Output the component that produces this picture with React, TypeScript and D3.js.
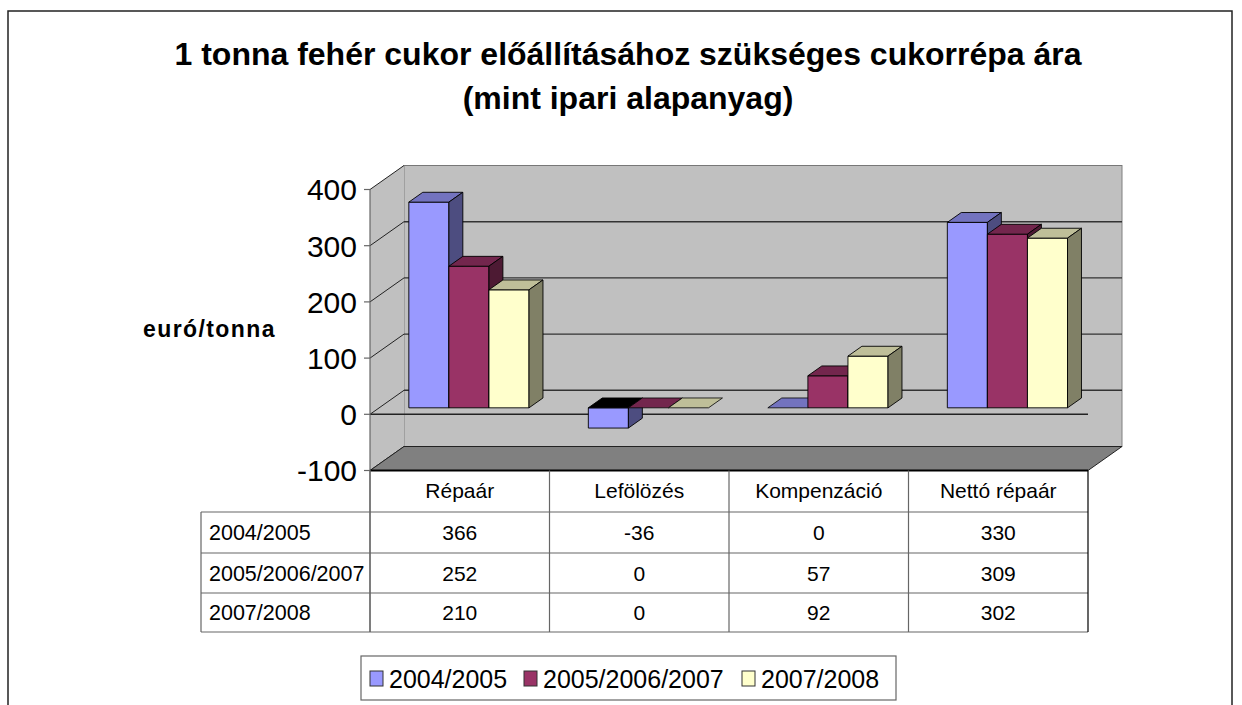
import React from 'react';
import * as d3 from 'd3';

// chart data
const categories = ['Répaár', 'Lefölözés', 'Kompenzáció', 'Nettó répaár'];
const seriesNames = ['2004/2005', '2005/2006/2007', '2007/2008'];
const values2004 = [366, -36, 0, 330];
const values2005 = [252, 0, 57, 309];
const values2007 = [210, 0, 92, 302];
const yTicks = [-100, 0, 100, 200, 300, 400];

const seriesValues = [values2004, values2005, values2007];
const colors = [
  { front: '#9999ff', top: '#7373bf', side: '#4d4d80' },
  { front: '#993366', top: '#73264d', side: '#4d1a33' },
  { front: '#ffffcc', top: '#bfbf99', side: '#808066' },
];

const FONT = '"Liberation Sans", Arial, sans-serif';
const W = 1242, H = 705;
// depth offset of the 3d box
const DX = 34, DY = 24;
const F0 = 0.27, F1 = 0.68;

const App = () => {
  const y = d3.scaleLinear().domain([-100, 400]).range([470.5, 189.5]);
  const x = d3.scaleBand().domain(categories).range([370, 1088]);
  const s = d3.scaleBand().domain(seriesNames).range([0, x.bandwidth()]).paddingInner(0).paddingOuter(0.74);

  const x0 = x.range()[0], x1 = x.range()[1];
  const yTop = y(400), yBot = y(-100), yZero = y(0);

  const pts = (arr) => arr.map(p => p.join(',')).join(' ');

  const bars = [];
  categories.forEach((cat, ci) => {
    seriesNames.forEach((name, si) => {
      const v = seriesValues[si][ci];
      const c = colors[si];
      const bx0 = x(cat) + s(name) + F0 * DX;
      const bx1 = bx0 + s.bandwidth();
      const ddx = (F1 - F0) * DX, ddy = (F1 - F0) * DY;
      const yt = Math.min(y(v), yZero) - F0 * DY;
      const yb = Math.max(y(v), yZero) - F0 * DY;
      const topFill = v < 0 ? '#000' : c.top;
      const key = cat + name;
      if (v === 0) {
        bars.push(
          <polygon key={key} points={pts([[bx0, yt], [bx1, yt], [bx1 + ddx, yt - ddy], [bx0 + ddx, yt - ddy]])}
            fill={topFill} stroke="#000" strokeWidth={0.8} />
        );
        return;
      }
      bars.push(
        <g key={key} stroke="#000" strokeWidth={0.9} strokeLinejoin="round">
          <rect x={bx0} y={yt} width={bx1 - bx0} height={yb - yt} fill={c.front} />
          <polygon points={pts([[bx0, yt], [bx1, yt], [bx1 + ddx, yt - ddy], [bx0 + ddx, yt - ddy]])} fill={topFill} />
          <polygon points={pts([[bx1, yt], [bx1 + ddx, yt - ddy], [bx1 + ddx, yb - ddy], [bx1, yb]])} fill={c.side} />
        </g>
      );
    });
  });

  // table geometry
  const tableLeft = 201;
  const rowLines = [512, 553, 593, 632];
  const colLines = [x0, ...categories.map(c => x(c) + x.bandwidth())];

  const legendX = [370, 524, 742];

  return (
    <svg width={W} height={H} style={{ position: 'absolute', left: 0, top: 0, background: '#fff' }} fontFamily={FONT}>
      <rect x={8} y={11} width={1224} height={720} fill="#fff" stroke="#222" strokeWidth={1.5} />

      <text x={628} y={65} textAnchor="middle" fontSize={32} fontWeight="bold">1 tonna fehér cukor előállításához szükséges cukorrépa ára</text>
      <text x={628} y={109} textAnchor="middle" fontSize={32} fontWeight="bold">(mint ipari alapanyag)</text>

      {/* walls */}
      <rect x={x0 + DX} y={yTop - DY} width={x1 - x0} height={yBot - yTop} fill="#c0c0c0" stroke="#808080" />
      <polygon points={pts([[x0, yTop], [x0 + DX, yTop - DY], [x0 + DX, yBot - DY], [x0, yBot]])} fill="#c0c0c0" />
      {yTicks.filter(t => t > -100 && t < 400).map(t => (
        <line key={'g' + t} x1={x0 + DX} x2={x1 + DX} y1={y(t) - DY} y2={y(t) - DY} stroke="#333" strokeWidth={1.4} />
      ))}
      {yTicks.map(t => (
        <line key={'d' + t} x1={x0} x2={x0 + DX} y1={y(t)} y2={y(t) - DY} stroke="#222" strokeWidth={1} />
      ))}
      <line x1={x0 + DX} x2={x1 + DX} y1={yTop - DY} y2={yTop - DY} stroke="#777" />

      {/* floor */}
      <polygon points={pts([[x0, yBot], [x0 + DX, yBot - DY], [x1 + DX, yBot - DY], [x1, yBot]])} fill="#808080" stroke="#222" strokeWidth={1} />
      <line x1={x0} x2={x1} y1={yBot} y2={yBot} stroke="#000" strokeWidth={2} />

      {/* front zero line */}
      <line x1={x0} x2={x1} y1={yZero} y2={yZero} stroke="#222" strokeWidth={1.4} />

      {bars}

      {/* y axis */}
      <line x1={x0} x2={x0} y1={yTop} y2={rowLines[3]} stroke="#666" strokeWidth={1.2} />
      {yTicks.map(t => (
        <g key={'t' + t}>
          <line x1={x0 - 6} x2={x0} y1={y(t)} y2={y(t)} stroke="#666" strokeWidth={1.2} />
          <text x={x0 - 13} y={y(t) + 10.8} textAnchor="end" fontSize={30}>{t}</text>
        </g>
      ))}
      <text x={143} y={337} fontSize={23} fontWeight="bold" letterSpacing={1.4}>euró/tonna</text>

      {/* data table */}
      <g stroke="#666" strokeWidth={1.2}>
        {rowLines.map(r => <line key={'r' + r} x1={tableLeft} x2={x1} y1={r} y2={r} />)}
        <line x1={tableLeft} x2={tableLeft} y1={rowLines[0]} y2={rowLines[3]} />
        {colLines.map(c => <line key={'c' + c} x1={c} x2={c} y1={yBot} y2={rowLines[3]} stroke={c === x1 ? '#000' : '#666'} />)}
      </g>
      {categories.map(cat => (
        <text key={'h' + cat} x={x(cat) + x.bandwidth() / 2} y={498} textAnchor="middle" fontSize={21}>{cat}</text>
      ))}
      {seriesNames.map((name, si) => {
        const cy = (rowLines[si] + rowLines[si + 1]) / 2 + 7.5;
        return (
          <g key={'row' + name}>
            <text x={209} y={cy} fontSize={21.5}>{name}</text>
            {categories.map((cat, ci) => (
              <text key={cat} x={x(cat) + x.bandwidth() / 2} y={cy} textAnchor="middle" fontSize={21}>{seriesValues[si][ci]}</text>
            ))}
          </g>
        );
      })}

      {/* legend */}
      <rect x={361} y={656} width={535} height={44} fill="#fff" stroke="#666" strokeWidth={1.2} />
      {seriesNames.map((name, si) => (
        <g key={'l' + name}>
          <rect x={legendX[si]} y={671} width={13} height={15} fill={colors[si].front} stroke="#333" strokeWidth={1} />
          <text x={legendX[si] + 19} y={688} fontSize={25}>{name}</text>
        </g>
      ))}
    </svg>
  );
};

export default App;
